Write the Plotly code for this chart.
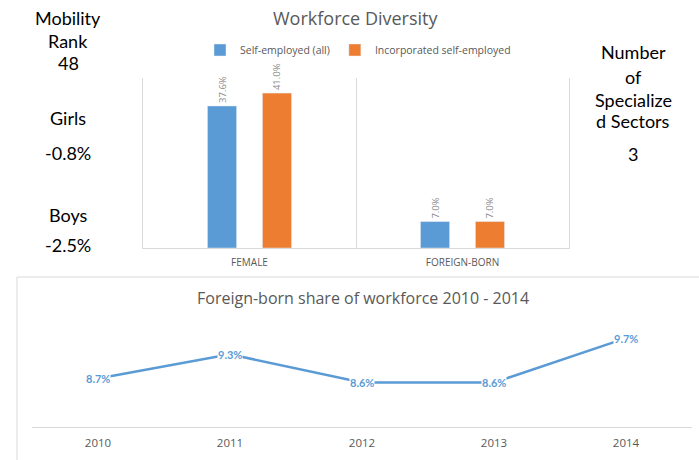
import plotly.graph_objects as go

W, H = 699, 460

# --- Workforce diversity bars ---
groups = ["FEMALE", "FOREIGN-BORN"]
self_employed_all = [37.6, 7.0]
incorporated_self_employed = [41.0, 7.0]

# --- Foreign-born share of workforce ---
years = ["2010", "2011", "2012", "2013", "2014"]
foreign_born_share = [8.7, 9.3, 8.6, 8.6, 9.7]

# --- Side panels ---
left_panel = [("Mobility", 18), ("Rank", 41), ("48", 63),
              ("Girls", 118), ("-0.8%", 153),
              ("Boys", 215), ("-2.5%", 245)]
right_panel = [("Number", 52), ("of", 77), ("Specialize", 100),
               ("d Sectors", 121), ("3", 154)]

BLUE = "#5b9bd5"
ORANGE = "#ed7d31"
GRAY_TXT = "#595959"
GRID = "#d9d9d9"
SIDE_FONT = "Lato, 'Open Sans', sans-serif"
CHART_FONT = "'Open Sans', Lato, sans-serif"


def px_x(x):
    return x / W


def px_y(y):
    return 1 - y / H


fig = go.Figure()

fig.add_trace(go.Bar(
    x=groups, y=self_employed_all, name="Self-employed (all)",
    marker=dict(color=BLUE), xaxis="x", yaxis="y",
    text=[f"{v:.1f}%" for v in self_employed_all],
    textposition="outside", textangle=-90,
    textfont=dict(size=9.5, color="#8c8c8c", family=CHART_FONT),
    cliponaxis=False,
))
fig.add_trace(go.Bar(
    x=groups, y=incorporated_self_employed, name="Incorporated self-employed",
    marker=dict(color=ORANGE), xaxis="x", yaxis="y",
    text=[f"{v:.1f}%" for v in incorporated_self_employed],
    textposition="outside", textangle=-90,
    textfont=dict(size=9.5, color="#8c8c8c", family=CHART_FONT),
    cliponaxis=False,
))

fig.add_trace(go.Scatter(
    x=years, y=foreign_born_share, mode="lines",
    line=dict(color=BLUE, width=2.5), showlegend=False,
    xaxis="x2", yaxis="y2", hoverinfo="skip",
))

annotations = []
for i, v in enumerate(foreign_born_share):
    annotations.append(dict(
        x=i, y=v, xref="x2", yref="y2", text=f"<b>{v:.1f}%</b>",
        showarrow=False, bgcolor="white", borderpad=0,
        font=dict(size=11, color=BLUE, family=SIDE_FONT),
        xanchor="center", yanchor="middle",
    ))

for txt, y in left_panel:
    annotations.append(dict(
        x=px_x(68), y=px_y(y), xref="paper", yref="paper", text=txt,
        showarrow=False, xanchor="center", yanchor="middle",
        font=dict(size=18, color="black", family=SIDE_FONT),
    ))
for txt, y in right_panel:
    annotations.append(dict(
        x=px_x(633), y=px_y(y), xref="paper", yref="paper", text=txt,
        showarrow=False, xanchor="center", yanchor="middle",
        font=dict(size=18, color="black", family=SIDE_FONT),
    ))

annotations.append(dict(
    x=px_x(356), y=px_y(18), xref="paper", yref="paper",
    text="Workforce Diversity", showarrow=False,
    xanchor="center", yanchor="middle",
    font=dict(size=18, color=GRAY_TXT, family=CHART_FONT),
))
annotations.append(dict(
    x=px_x(363), y=px_y(298), xref="paper", yref="paper",
    text="Foreign-born share of workforce 2010 - 2014", showarrow=False,
    xanchor="center", yanchor="middle",
    font=dict(size=16, color=GRAY_TXT, family=CHART_FONT),
))

shapes = [
    # frame around the lower chart
    dict(type="line", xref="paper", yref="paper",
         x0=px_x(17), x1=1, y0=px_y(277), y1=px_y(277),
         line=dict(color=GRID, width=1)),
    dict(type="line", xref="paper", yref="paper",
         x0=px_x(17), x1=px_x(17), y0=px_y(277), y1=0,
         line=dict(color=GRID, width=1)),
]

fig.update_layout(
    width=W, height=H,
    margin=dict(l=0, r=0, t=0, b=0),
    paper_bgcolor="white", plot_bgcolor="white",
    font=dict(family=CHART_FONT, color=GRAY_TXT),
    barmode="group", bargap=0.484, bargroupgap=0.47,
    showlegend=True,
    legend=dict(
        orientation="h", x=px_x(358), y=px_y(50),
        xanchor="center", yanchor="middle",
        font=dict(size=10.5, color=GRAY_TXT, family=CHART_FONT),
        itemwidth=30, bgcolor="rgba(0,0,0,0)",
    ),
    xaxis=dict(
        domain=[px_x(143), px_x(569)], anchor="y",
        type="category", tickson="boundaries", ticks="",
        showgrid=True, gridcolor=GRID, gridwidth=1,
        showline=True, linecolor=GRID, linewidth=1, mirror=False,
        tickfont=dict(size=10, color=GRAY_TXT, family=CHART_FONT),
        ticklabelstandoff=5,
        fixedrange=True,
    ),
    yaxis=dict(
        domain=[px_y(248), px_y(78)], anchor="x",
        range=[0, 45], showgrid=False, showticklabels=False,
        zeroline=False, showline=True, linecolor=GRID, linewidth=1,
        mirror=True, ticks="", fixedrange=True,
    ),
    xaxis2=dict(
        domain=[px_x(32), px_x(692)], anchor="y2",
        type="category", range=[-0.5, 4.5], ticks="",
        showgrid=False, showline=True, linecolor=GRID, linewidth=1,
        tickfont=dict(size=11.5, color=GRAY_TXT, family=CHART_FONT),
        ticklabelstandoff=5,
        fixedrange=True,
    ),
    yaxis2=dict(
        domain=[px_y(427), px_y(326)], anchor="x2",
        range=[7.5, 10], showgrid=False, showticklabels=False,
        zeroline=False, showline=False, fixedrange=True,
    ),
    annotations=annotations,
    shapes=shapes,
)

fig.write_html("out.html")
